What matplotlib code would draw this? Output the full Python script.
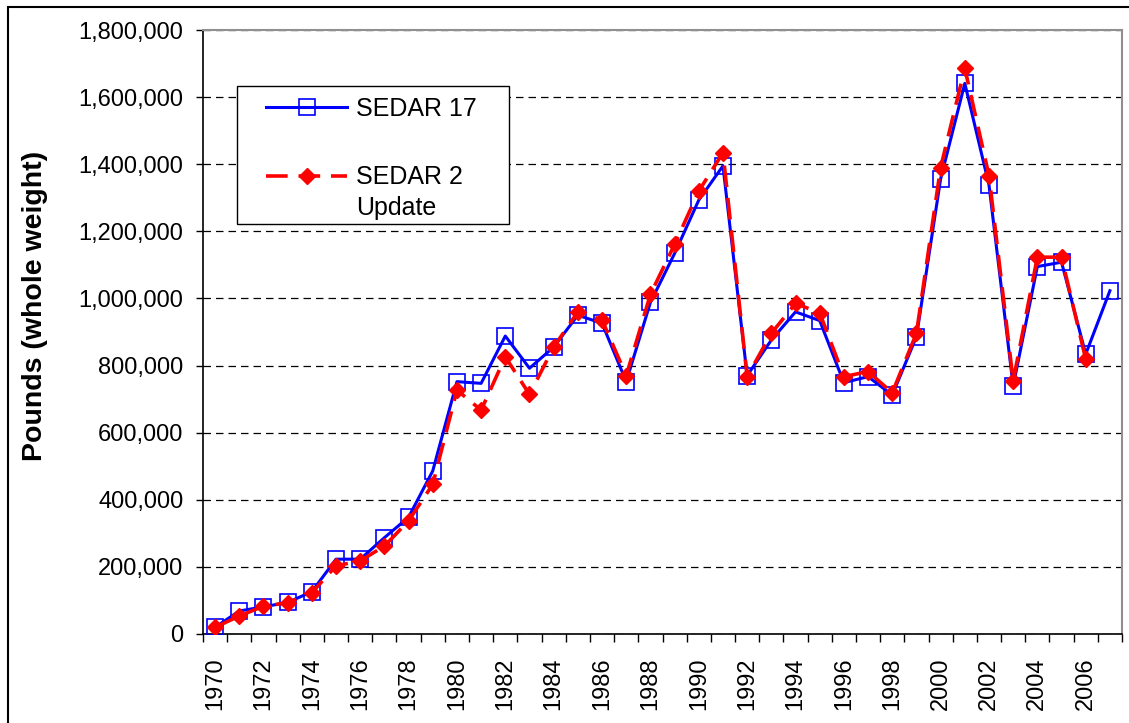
import matplotlib
matplotlib.use("Agg")
import matplotlib.pyplot as plt
from matplotlib.ticker import FuncFormatter, FixedLocator
from matplotlib.patches import Rectangle
from matplotlib.legend_handler import HandlerLine2D
import numpy as np

plt.rcParams['font.family'] = ['Liberation Sans', 'DejaVu Sans']

years = list(range(1970, 2008))
sedar17 = [20000, 68500, 81000, 94000, 126000, 223000, 223000, 287000, 348000, 486000,
           752000, 747000, 888000, 792000, 855000, 950000, 926000, 752000, 988000, 1134000,
           1293000, 1395000, 770000, 876000, 960000, 934000, 749000, 767000, 712000, 886000,
           1356000, 1641000, 1338000, 739000, 1095000, 1108000, 834000, 1023000]
sedar2 = [20000, 53600, 83000, 93000, 123000, 203000, 218000, 262000, 337000, 446000,
          727000, 667000, 826000, 714000, 855000, 960000, 936000, 770000, 1012000, 1161000,
          1320000, 1434000, 767000, 896000, 985000, 957000, 767000, 782000, 719000, 896000,
          1390000, 1686000, 1366000, 754000, 1123000, 1123000, 819000, None]
label17 = "SEDAR 17"
label2 = "SEDAR 2\nUpdate"
ylabel = "Pounds (whole weight)"
yticks = list(range(0, 1800001, 200000))

W, H = 1129, 723
fig = plt.figure(figsize=(W / 100, H / 100), dpi=100)
ax = fig.add_axes([203 / W, 1 - 634 / H, (1122 - 203) / W, (634 - 30) / H])

x = np.arange(len(years))
s2 = np.array([np.nan if v is None else v for v in sedar2], dtype=float)

l17, = ax.plot(x, sedar17, color='#0000FF', lw=2.2, marker='s', markersize=12,
               markerfacecolor='none', markeredgecolor='#0000FF', markeredgewidth=1.2,
               label=label17, zorder=3)
l2, = ax.plot(x, s2, color='#FF0000', lw=2.6, dashes=(6, 3), marker='D', markersize=8,
              markerfacecolor='#FF0000', markeredgecolor='#FF0000', label=label2, zorder=4)

ax.set_xlim(-0.5, len(years) - 0.5)
ax.set_ylim(0, 1800000)
ax.set_yticks(yticks)
ax.yaxis.set_major_formatter(FuncFormatter(lambda v, p: f"{int(v):,}"))
ax.yaxis.grid(True, color='black', linestyle=(0, (6, 4)), lw=0.9)
ax.set_axisbelow(True)

major = [i for i in range(len(years)) if years[i] % 2 == 0]
ax.set_xticks(major)
ax.set_xticklabels([str(years[i]) for i in major], rotation=90)
ax.xaxis.set_minor_locator(FixedLocator(np.arange(-0.5, len(years), 1.0)))
ax.tick_params(axis='x', which='major', length=0, pad=17, labelsize=17)
ax.tick_params(axis='x', which='minor', length=6, width=1, direction='out', color='black')
ax.tick_params(axis='y', which='major', length=5, width=1, direction='out', pad=9, labelsize=17)

for s in ['left', 'bottom']:
    ax.spines[s].set_color('black')
    ax.spines[s].set_linewidth(1.2)
for s in ['top', 'right']:
    ax.spines[s].set_color('#909090')
    ax.spines[s].set_linewidth(1.5)

fig.text(35 / W, 1 - 306 / H, ylabel, rotation=90, ha='center', va='center',
         fontsize=20.5, fontweight='bold')


class FirstLineHandler(HandlerLine2D):
    def __init__(self, dy=0.0, **kw):
        super().__init__(**kw)
        self.dy = dy

    def create_artists(self, legend, orig_handle, xdescent, ydescent, width, height,
                       fontsize, trans):
        return super().create_artists(legend, orig_handle, xdescent, ydescent - 2 * self.dy,
                                      width, height, fontsize, trans)


# legend frame drawn at fixed position
fig.patches.append(Rectangle((237 / W, 1 - 224 / H), (509 - 237) / W, (224 - 86) / H,
                             transform=fig.transFigure, fill=False, edgecolor='black',
                             lw=1.0, zorder=5))
fig.patches.append(Rectangle((237 / W, 1 - 224 / H), (509 - 237) / W, (224 - 86) / H,
                             transform=fig.transFigure, facecolor='white', edgecolor='none',
                             zorder=4.9))

leg = fig.legend(handles=[l17, l2], loc='upper left', bbox_to_anchor=(266 / W, 1 - 97 / H),
                 borderaxespad=0, frameon=False, fontsize=18, handlelength=3.25,
                 labelspacing=1.75, borderpad=0, handletextpad=0.35,
                 handler_map={l2: FirstLineHandler(dy=12.5)})
leg.set_zorder(6)
for t in leg.get_texts():
    t.set_linespacing(1.4)

fig.patches.append(Rectangle((8 / W, -0.5), 2, 1 - 7 / H + 0.5, transform=fig.transFigure,
                             fill=False, edgecolor='black', lw=1.5))

fig.savefig("out.png", dpi=100)
